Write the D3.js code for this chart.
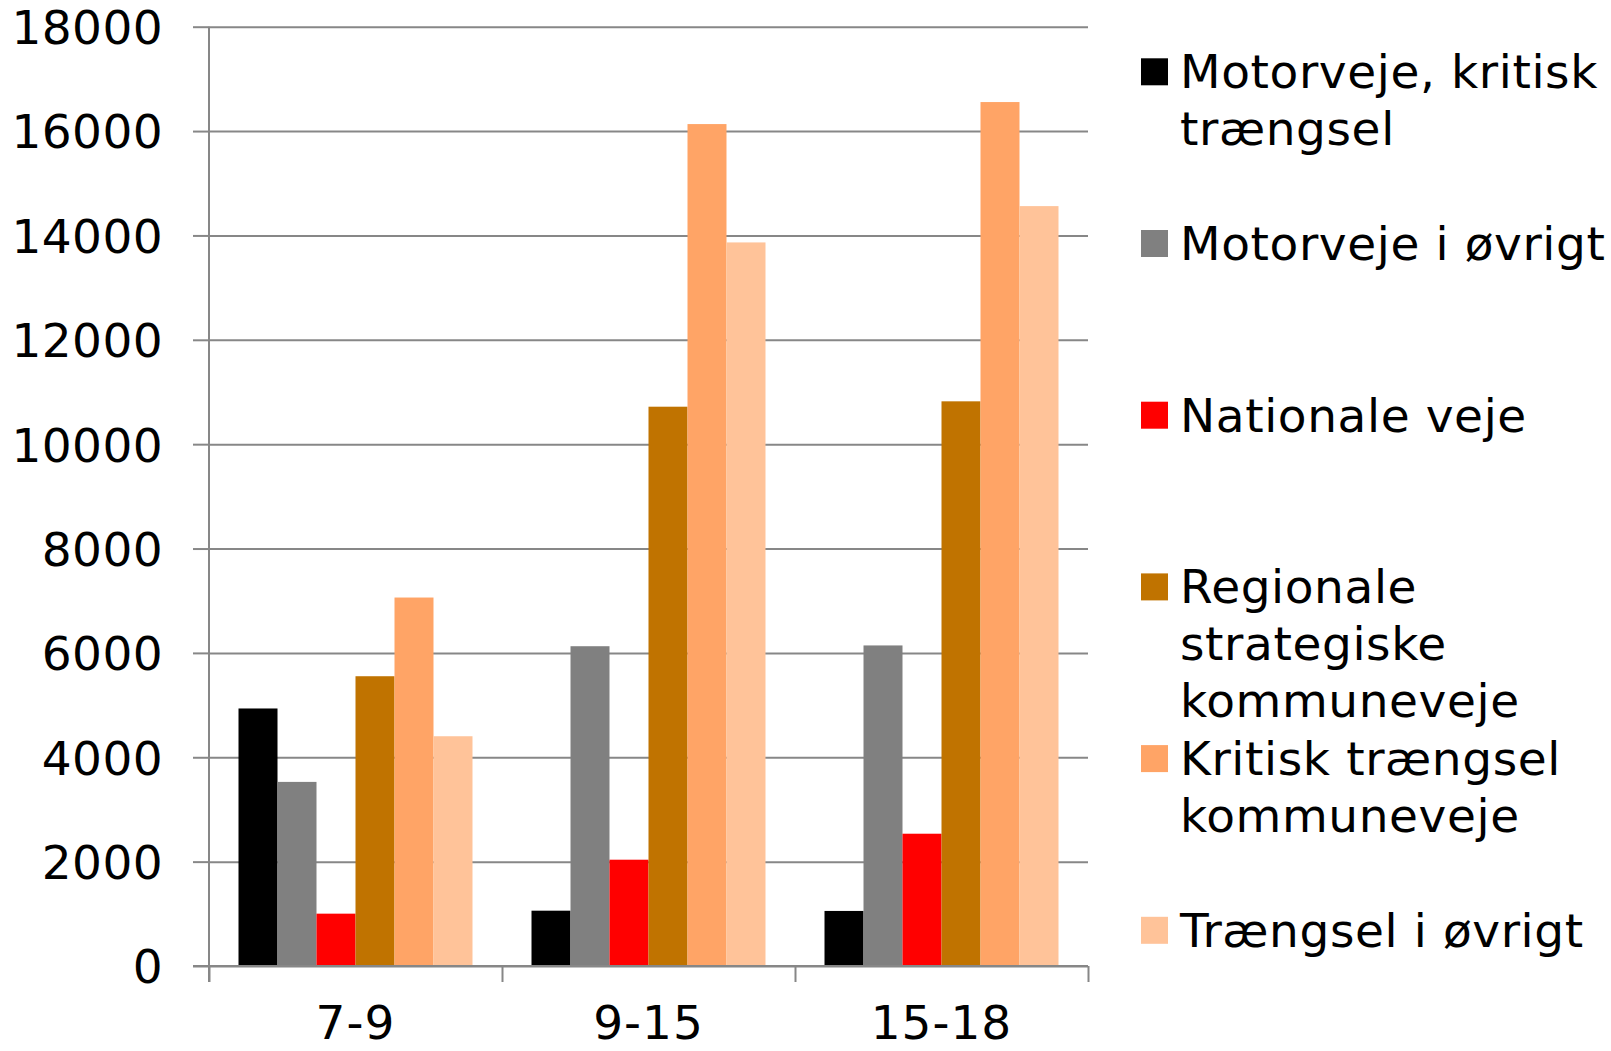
<!DOCTYPE html>
<html>
<head>
<meta charset="utf-8">
<script src="https://cdn.jsdelivr.net/npm/d3@7"></script>
<style>
  html, body { margin: 0; padding: 0; background: #fff; }
  svg { display: block; font-family: "DejaVu Sans", Verdana, sans-serif; }
</style>
</head>
<body>
<svg id="chart" width="1611" height="1051"></svg>
<script>
// ---- Data ----
const categories = ["7-9", "9-15", "15-18"];
const seriesNames = [
  "Motorveje, kritisk trængsel",
  "Motorveje i øvrigt",
  "Nationale veje",
  "Regionale strategiske kommuneveje",
  "Kritisk trængsel kommuneveje",
  "Trængsel i øvrigt"
];
const legendLines = [
  ["Motorveje, kritisk", "trængsel"],
  ["Motorveje i øvrigt"],
  ["Nationale veje"],
  ["Regionale", "strategiske", "kommuneveje"],
  ["Kritisk trængsel", "kommuneveje"],
  ["Trængsel i øvrigt"]
];
const seriesColors = ["#000000", "#808080", "#FF0000", "#C07300", "#FFA466", "#FFC399"];
// values per series, in category order
const motorvejeKritisk   = [4935, 1060, 1055];
const motorvejeOevrigt   = [3528, 6128, 6143];
const nationaleVeje      = [1003, 2037, 2535];
const regionaleStrateg   = [5553, 10718, 10821];
const kritiskKommune     = [7061, 16134, 16556];
const traengselOevrigt   = [4403, 13866, 14562];
const seriesValues = [motorvejeKritisk, motorvejeOevrigt, nationaleVeje,
                      regionaleStrateg, kritiskKommune, traengselOevrigt];
const yTicks = [0, 2000, 4000, 6000, 8000, 10000, 12000, 14000, 16000, 18000];

// ---- Layout ----
const svg = d3.select("#chart");
const plotLeft = 209, plotRight = 1088, plotTop = 26.7, plotBottom = 966;
const gridColor = "#878787";
const fontSize = 47;

const y = d3.scaleLinear().domain([0, 18000]).range([plotBottom, plotTop]);
const x0 = d3.scaleBand().domain(categories).range([plotLeft, plotRight]).padding(0);
const bw = x0.bandwidth();
const x1 = d3.scaleBand().domain(d3.range(seriesNames.length))
  .range([bw * 0.1007, bw * 0.8993]).padding(0);

// gridlines
const grid = svg.append("g")
  .attr("transform", `translate(${plotLeft},0)`)
  .call(d3.axisLeft(y).tickValues(yTicks).tickSize(-(plotRight - plotLeft)).tickFormat(""));
grid.select(".domain").remove();
grid.selectAll("line").attr("stroke", gridColor).attr("stroke-width", 2);

// bars
const groups = svg.append("g").selectAll("g")
  .data(categories)
  .join("g")
  .attr("transform", d => `translate(${x0(d)},0)`);

groups.selectAll("rect")
  .data((c, ci) => seriesValues.map((vals, si) => ({ si, v: vals[ci] })))
  .join("rect")
  .attr("x", d => x1(d.si))
  .attr("width", x1.bandwidth())
  .attr("y", d => y(d.v))
  .attr("height", d => plotBottom - y(d.v))
  .attr("fill", d => seriesColors[d.si]);

// y axis
const yAxis = svg.append("g")
  .attr("transform", `translate(${plotLeft},0)`)
  .call(d3.axisLeft(y).tickValues(yTicks).tickSize(16).tickPadding(30).tickFormat(d3.format("d")));
yAxis.select(".domain").attr("stroke", gridColor).attr("stroke-width", 2)
  .attr("d", `M0,${plotTop}V${plotBottom + 16}`);
yAxis.selectAll("line").attr("stroke", gridColor).attr("stroke-width", 2);
yAxis.selectAll("text")
  .attr("font-size", fontSize)
  .attr("font-family", "DejaVu Sans, Verdana, sans-serif")
  .attr("letter-spacing", 0.4)
  .attr("fill", "#000")
  .attr("dy", "0.36em");

// x axis
const xAxisScale = d3.scalePoint().domain(d3.range(categories.length + 1))
  .range([plotLeft, plotRight]);
const xAxis = svg.append("g")
  .attr("transform", `translate(0,${plotBottom})`)
  .call(d3.axisBottom(xAxisScale).tickSize(16).tickFormat(""));
xAxis.select(".domain").attr("stroke", gridColor).attr("stroke-width", 2)
  .attr("d", `M${plotLeft - 16},0H${plotRight}`);
xAxis.selectAll("line").attr("stroke", gridColor).attr("stroke-width", 2);

svg.append("g").selectAll("text")
  .data(categories)
  .join("text")
  .attr("x", d => x0(d) + bw / 2)
  .attr("y", 1039)
  .attr("text-anchor", "middle")
  .attr("font-size", fontSize)
  .attr("letter-spacing", 1)
  .attr("fill", "#000")
  .text(d => d);

// legend
const legendX = 1141, legendTop = 58.3, legendStep = 171.7, sq = 27, lineH = 56.7;
const legend = svg.append("g").selectAll("g")
  .data(seriesNames)
  .join("g")
  .attr("transform", (d, i) => `translate(${legendX},${legendTop + i * legendStep})`);
legend.append("rect")
  .attr("width", sq).attr("height", sq)
  .attr("fill", (d, i) => seriesColors[i]);
legend.append("text")
  .attr("x", 39)
  .attr("font-size", fontSize)
  .attr("letter-spacing", 0.6)
  .attr("fill", "#000")
  .selectAll("tspan")
  .data((d, i) => legendLines[i])
  .join("tspan")
  .attr("x", 39)
  .attr("y", (d, j) => 30 + j * lineH)
  .text(d => d);
</script>
</body>
</html>
